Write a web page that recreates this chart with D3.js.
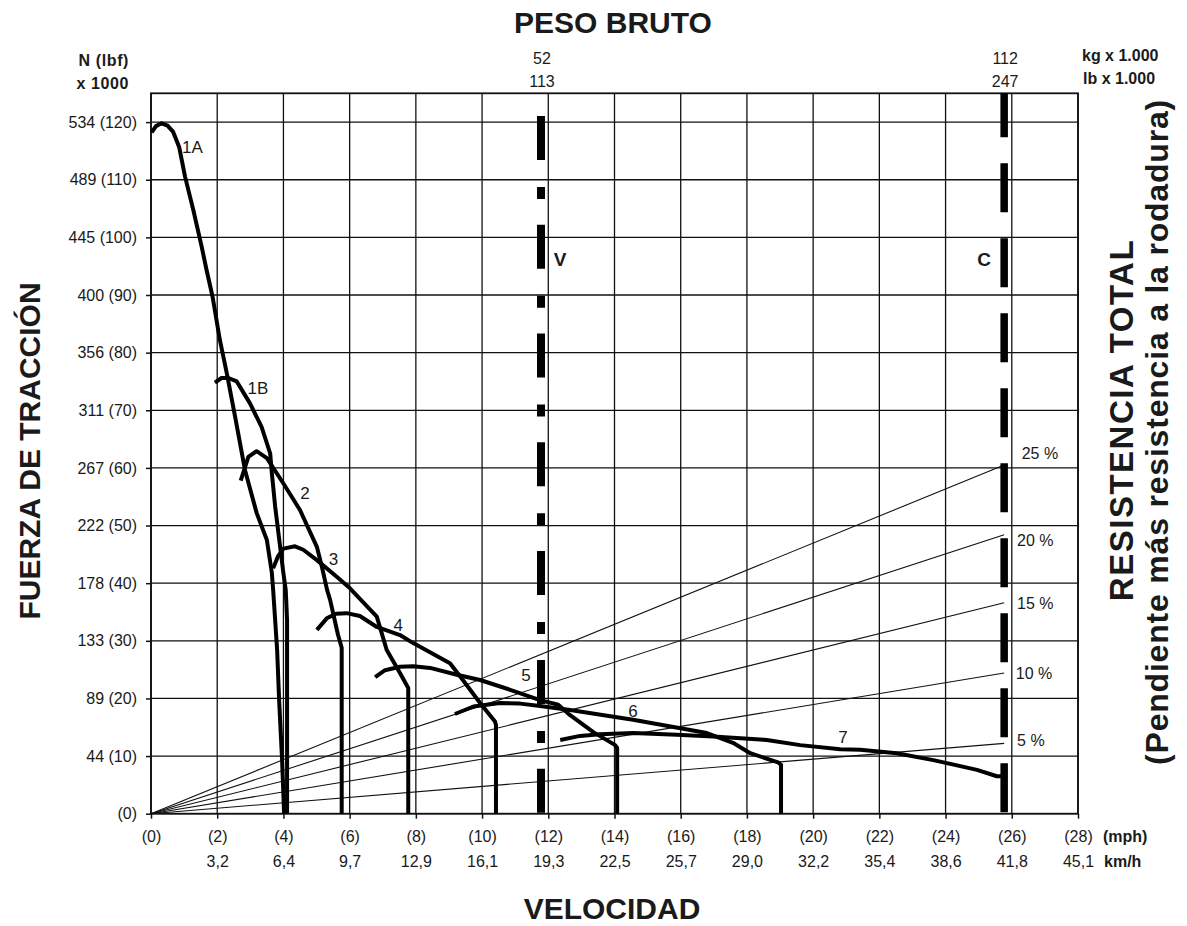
<!DOCTYPE html>
<html><head><meta charset="utf-8">
<script src="https://cdn.jsdelivr.net/npm/d3@7"></script>
<style>
body{margin:0;background:#fff}
svg{display:block}
text{font-family:"Liberation Sans",Arial,Helvetica,sans-serif;fill:#1a1a1a}
</style>
</head><body>
<svg id="chart" width="1187" height="926"></svg>
<script>
// ---------- data ----------
const mphTicks = [0,2,4,6,8,10,12,14,16,18,20,22,24,26,28];
const kmhLabels = ["","3,2","6,4","9,7","12,9","16,1","19,3","22,5","25,7","29,0","32,2","35,4","38,6","41,8","45,1"];
const lbfTicks = [0,10,20,30,40,50,60,70,80,90,100,110,120];
const newtonLabels = ["","44","89","133","178","222","267","311","356","400","445","489","534"];

// gear curves: [mph, lbf x1000]
const gear1A = [[0.02,118.2],[0.15,119.3],[0.32,119.8],[0.5,119.4],[0.67,118.3],[0.85,115.7],[1.03,110.5],[1.28,104.7],[1.53,98.4],[1.68,94.3],[1.86,89.7],[2.08,82.2],[2.29,76.4],[2.54,68.9],[2.84,59.6],[3.19,52.2],[3.50,47.5],[3.65,41.8],[3.69,38.8],[3.81,28.4],[3.87,19.7],[3.96,9.3],[4.02,0]];
const gear1B = [[1.93,74.8],[2.13,75.6],[2.34,75.6],[2.59,75.0],[2.99,71.2],[3.34,67.1],[3.60,62.5],[3.65,59.1],[3.75,53.3],[3.90,46.3],[4.00,41.7],[4.07,38.8],[4.11,33.6],[4.11,0]];
const gear2 = [[2.71,57.8],[2.94,61.9],[3.19,62.9],[3.50,61.7],[4.00,57.3],[4.50,52.7],[5.01,46.3],[5.16,42.9],[5.32,38.8],[5.41,37.1],[5.65,31.0],[5.76,28.8],[5.76,0]];
const gear3 = [[3.69,42.6],[3.84,44.7],[4.00,46.0],[4.35,46.4],[4.60,45.8],[5.01,44.0],[5.61,41.1],[6.01,39.1],[6.82,34.2],[7.12,28.4],[7.52,24.4],[7.77,21.8],[7.77,0]];
const gear4 = [[5.01,31.9],[5.31,33.9],[5.59,34.7],[5.91,34.8],[6.31,34.3],[6.82,32.4],[7.52,31.0],[7.92,29.6],[9.03,26.1],[9.34,23.8],[9.94,19.2],[10.39,16.0],[10.42,15.4],[10.42,0]];
const gear5 = [[6.77,23.7],[7.07,24.9],[7.52,25.5],[7.92,25.6],[8.43,25.3],[9.24,24.1],[9.94,23.2],[10.85,21.5],[11.75,19.7],[12.30,18.9],[12.66,17.1],[13.35,14.2],[14.02,11.9],[14.08,11.4],[14.08,0]];
const gear6 = [[9.18,17.3],[9.74,18.6],[10.54,19.2],[11.15,19.1],[11.75,18.7],[12.66,18.0],[14.56,16.3],[16.79,14.0],[17.58,12.3],[18.10,10.5],[18.94,8.9],[19.03,8.5],[19.03,0]];
const gear7 = [[12.36,12.8],[12.96,13.5],[13.56,13.8],[14.56,14.0],[15.88,13.7],[16.98,13.4],[18.60,12.8],[19.61,11.9],[20.82,11.2],[21.42,11.1],[22.53,10.5],[23.63,9.3],[24.95,7.6],[25.55,6.5],[25.70,6.5]];
const gearNames = ["1A","1B","2","3","4","5","6","7"];
const gearLabelAt = [[1.25,115.7],[3.23,73.9],[4.65,55.7],[5.51,44.3],[7.47,32.7],[11.33,24.1],[14.56,17.8],[20.9,13.4]];

// gross weight markers (mph position on speed axis)
const weightNames = ["V","C"];
const weightMph = [11.78,25.77];
const weightKg = ["52","112"];
const weightLb = ["113","247"];

// total resistance (grade) lines end values at C
const gradeNames = ["5 %","10 %","15 %","20 %","25 %"];
const gradeEnd = [12.2,24.4,36.6,48.4,60.5];
const gradeLabelAt = [[26.16,12.8],[26.12,24.4],[26.16,36.6],[26.16,47.5],[26.30,62.6]];

// ---------- chart ----------
const svg = d3.select("#chart");
const x = d3.scaleLinear().domain([0,28]).range([151,1078]);
const y = d3.scaleLinear().domain([0,125]).range([813.7,93.3]);
const ink = "#111";
const fam = "'Liberation Sans',Arial,sans-serif";

// grid
const grid = svg.append("g");
grid.selectAll("line.v").data(mphTicks).join("line")
  .attr("x1",d=>x(d)).attr("x2",d=>x(d)).attr("y1",y(0)).attr("y2",y(125))
  .attr("stroke",ink).attr("stroke-width",1.3);
grid.selectAll("line.h").data(lbfTicks).join("line")
  .attr("x1",x(0)).attr("x2",x(28)).attr("y1",d=>y(d)).attr("y2",d=>y(d))
  .attr("stroke",ink).attr("stroke-width",1.3);
// border
svg.append("rect").attr("x",x(0)).attr("y",y(125)).attr("width",x(28)-x(0)).attr("height",y(0)-y(125))
  .attr("fill","none").attr("stroke",ink).attr("stroke-width",1.8);

// axes
const yAxis = d3.axisLeft(y).tickValues(lbfTicks).tickSize(5).tickPadding(9)
  .tickFormat((d,i)=> d===0 ? "(0)" : `${newtonLabels[i]} (${d})`);
const ya = svg.append("g").attr("transform",`translate(${x(0)},0)`).call(yAxis);
ya.select(".domain").remove();
ya.selectAll(".tick line").attr("stroke",ink).attr("stroke-width",1.5);
ya.selectAll(".tick text").attr("font-size",16).attr("fill","#1a1a1a").style("font-family",fam);

const xAxis = d3.axisBottom(x).tickValues(mphTicks).tickSize(5).tickPadding(12)
  .tickFormat(d=>`(${d})`);
const xa = svg.append("g").attr("transform",`translate(0,${y(0)})`).call(xAxis);
xa.select(".domain").remove();
xa.selectAll(".tick line").attr("stroke",ink).attr("stroke-width",1.5);
xa.selectAll(".tick text").attr("font-size",16).attr("fill","#1a1a1a").style("font-family",fam);
xa.selectAll(".tick").append("text").attr("y",53).attr("fill","#1a1a1a")
  .attr("font-size",16).attr("text-anchor","middle").style("font-family",fam)
  .text((d,i)=>kmhLabels[i]);
svg.append("text").attr("x",1103).attr("y",842).attr("font-size",16).attr("font-weight","bold").text("(mph)");
svg.append("text").attr("x",1104).attr("y",867).attr("font-size",16).attr("font-weight","bold").text("km/h");

// grade lines
svg.append("g").selectAll("line").data(gradeEnd).join("line")
  .attr("x1",x(0)).attr("y1",y(0)).attr("x2",x(weightMph[1])).attr("y2",d=>y(d))
  .attr("stroke",ink).attr("stroke-width",1.1);

// weight lines V and C
svg.append("line").attr("x1",x(weightMph[0])).attr("x2",x(weightMph[0]))
  .attr("y1",115.9).attr("y2",y(0)).attr("stroke","#000").attr("stroke-width",8)
  .attr("stroke-dasharray","44,27,12,25.8");
svg.append("line").attr("x1",x(weightMph[1])).attr("x2",x(weightMph[1]))
  .attr("y1",y(125)).attr("y2",y(0)).attr("stroke","#000").attr("stroke-width",7.5)
  .attr("stroke-dasharray","49,26").attr("stroke-dashoffset",5);

// gear curves
const gears = [gear1A,gear1B,gear2,gear3,gear4,gear5,gear6,gear7];
const line = d3.line().x(d=>x(d[0])).y(d=>y(d[1]));
svg.append("g").selectAll("path").data(gears).join("path")
  .attr("d",line).attr("fill","none").attr("stroke","#000").attr("stroke-width",4)
  .attr("stroke-linejoin","round");

// gear labels
svg.append("g").selectAll("text").data(gearNames).join("text")
  .attr("x",(d,i)=>x(gearLabelAt[i][0])).attr("y",(d,i)=>y(gearLabelAt[i][1]))
  .attr("dy","0.36em").attr("text-anchor","middle").attr("font-size",17).text(d=>d);

// grade labels
svg.append("g").selectAll("text").data(gradeNames).join("text")
  .attr("x",(d,i)=>x(gradeLabelAt[i][0])).attr("y",(d,i)=>y(gradeLabelAt[i][1]))
  .attr("dy","0.36em").attr("font-size",16).text(d=>d);

// weight labels
svg.append("g").selectAll("text").data(weightNames).join("text")
  .attr("x",(d,i)=> i===0 ? x(weightMph[i])+19 : x(weightMph[i])-20).attr("y",259)
  .attr("dy","0.36em").attr("text-anchor","middle").attr("font-size",19).attr("font-weight","bold").text(d=>d);
svg.append("g").selectAll("text").data(weightKg).join("text")
  .attr("x",(d,i)=>x(weightMph[i])+1).attr("y",64).attr("text-anchor","middle").attr("font-size",16).text(d=>d);
svg.append("g").selectAll("text").data(weightLb).join("text")
  .attr("x",(d,i)=>x(weightMph[i])+1).attr("y",87).attr("text-anchor","middle").attr("font-size",16).text(d=>d);

// unit labels
svg.append("text").attr("x",1082).attr("y",61).attr("font-size",16).attr("font-weight","bold").text("kg x 1.000");
svg.append("text").attr("x",1083).attr("y",84).attr("font-size",16).attr("font-weight","bold").text("lb x 1.000");
svg.append("text").attr("x",129).attr("y",66).attr("text-anchor","end").attr("font-size",16).attr("font-weight","bold").attr("letter-spacing",0.6).text("N (lbf)");
svg.append("text").attr("x",129).attr("y",89).attr("text-anchor","end").attr("font-size",16).attr("font-weight","bold").attr("letter-spacing",0.6).text("x 1000");

// titles
svg.append("text").attr("x",613).attr("y",33).attr("text-anchor","middle").attr("font-size",30).attr("font-weight","bold").text("PESO BRUTO");
svg.append("text").attr("x",612).attr("y",919).attr("text-anchor","middle").attr("font-size",30).attr("font-weight","bold").text("VELOCIDAD");
svg.append("text").attr("transform","translate(40,451) rotate(-90)").attr("text-anchor","middle").attr("font-size",30).attr("font-weight","bold").text("FUERZA DE TRACCIÓN");
svg.append("text").attr("transform","translate(1133,420) rotate(-90)").attr("text-anchor","middle").attr("font-size",33).attr("font-weight","bold").attr("letter-spacing",1.5).text("RESISTENCIA TOTAL");
svg.append("text").attr("transform","translate(1168,432) rotate(-90)").attr("text-anchor","middle").attr("font-size",32).attr("font-weight","bold").attr("letter-spacing",0.8).text("(Pendiente más resistencia a la rodadura)");
</script>
</body></html>
